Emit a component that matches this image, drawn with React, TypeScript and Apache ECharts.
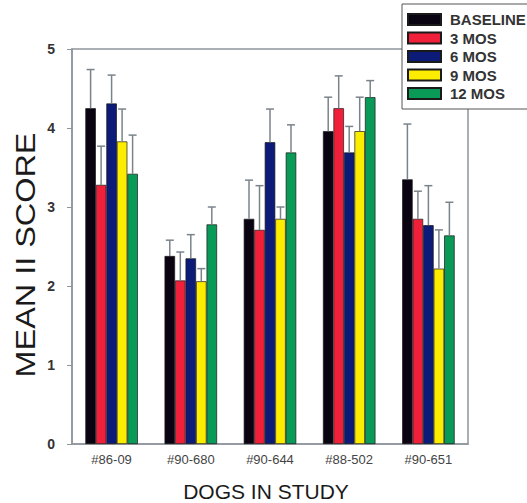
import React, { useEffect, useRef } from "react";
import * as echarts from "echarts";

const categories = ["#86-09", "#90-680", "#90-644", "#88-502", "#90-651"];
const seriesNames = ["BASELINE", "3 MOS", "6 MOS", "9 MOS", "12 MOS"];
const seriesColors = ["#0a0412", "#f0203a", "#0c1a78", "#fcec00", "#0a9a58"];

const baseline = [4.25, 2.38, 2.85, 3.96, 3.35];
const mos3 = [3.28, 2.07, 2.71, 4.25, 2.85];
const mos6 = [4.31, 2.35, 3.82, 3.69, 2.77];
const mos9 = [3.83, 2.06, 2.85, 3.96, 2.22];
const mos12 = [3.42, 2.78, 3.69, 4.39, 2.64];

// upper ends of the error bars
const baselineErr = [4.74, 2.58, 3.34, 4.39, 4.05];
const mos3Err = [3.77, 2.43, 3.27, 4.66, 3.2];
const mos6Err = [4.67, 2.65, 4.24, 4.02, 3.27];
const mos9Err = [4.24, 2.22, 3.0, 4.39, 2.71];
const mos12Err = [3.91, 3.0, 4.04, 4.6, 3.06];

const yTicks = [0, 1, 2, 3, 4, 5];

const FONT = "'Liberation Sans', Arial, Helvetica, sans-serif";
const BAR_W = 10.5;

export default function App() {
  const ref = useRef<HTMLDivElement>(null);

  useEffect(() => {
    if (!ref.current) return;
    const chart = echarts.init(ref.current, null, { renderer: "svg" });
    const values = [baseline, mos3, mos6, mos9, mos12];
    const errs = [baselineErr, mos3Err, mos6Err, mos9Err, mos12Err];

    const errData: number[][] = [];
    values.forEach((arr, si) => {
      arr.forEach((v, ci) => {
        errData.push([ci, si, v, errs[si][ci]]);
      });
    });

    const axisGray = "#8e959b";

    const option: any = {
      animation: false,
      textStyle: { fontFamily: FONT },
      grid: {
        left: 72,
        top: 49,
        right: 59,
        bottom: 59,
        show: true,
        borderColor: axisGray,
        borderWidth: 1.5,
        backgroundColor: "transparent",
      },
      legend: {
        data: seriesNames,
        orient: "vertical",
        left: 402,
        top: 4,
        backgroundColor: "#ffffff",
        borderColor: "#555",
        borderWidth: 1,
        padding: [8, 40, 8, 5],
        itemWidth: 33,
        itemHeight: 11,
        itemGap: 3.5,
        icon: "rect",
        selectedMode: false,
        textStyle: {
          fontFamily: FONT,
          fontSize: 15,
          fontWeight: "bold",
          color: "#333",
          lineHeight: 14,
          padding: [0, 0, 0, 4],
        },
      },
      xAxis: {
        type: "category",
        data: categories,
        axisLine: { lineStyle: { color: axisGray, width: 1.5 } },
        axisTick: { alignWithLabel: true, length: 4, lineStyle: { color: axisGray } },
        axisLabel: { color: "#444", fontSize: 13, margin: 9, fontFamily: FONT },
        splitLine: { show: false },
      },
      yAxis: {
        type: "value",
        min: yTicks[0],
        max: yTicks[yTicks.length - 1],
        interval: 1,
        axisLine: { show: true, lineStyle: { color: axisGray, width: 1.5 } },
        axisTick: { show: true, length: 5, lineStyle: { color: axisGray } },
        axisLabel: { color: "#333", fontSize: 14, fontWeight: "bold", margin: 17, fontFamily: FONT },
        splitLine: { show: false },
      },
      series: [
        ...seriesNames.map((name, i) => ({
          name,
          type: "bar",
          data: values[i],
          barWidth: BAR_W,
          barGap: "0%",
          itemStyle: {
            color: seriesColors[i],
            borderColor: "#1a1a1a",
            borderWidth: 0.7,
          },
          z: 2,
        })),
        {
          type: "custom",
          name: "err",
          data: errData,
          encode: { x: 0, y: [2, 3] },
          z: 3,
          renderItem: (params: any, api: any) => {
            const ci = api.value(0);
            const si = api.value(1);
            const v = api.value(2);
            const top = api.value(3);
            const b = api.coord([ci, v]);
            const t = api.coord([ci, top]);
            const x = b[0] + (si - 2) * BAR_W;
            const style = { stroke: "#7b838a", lineWidth: 1.5 };
            return {
              type: "group",
              children: [
                { type: "line", shape: { x1: x, y1: b[1], x2: x, y2: t[1] }, style },
                { type: "line", shape: { x1: x - 4, y1: t[1], x2: x + 4, y2: t[1] }, style },
              ],
            };
          },
        },
      ],
      graphic: [
        {
          type: "text",
          x: 25,
          y: 255,
          rotation: Math.PI / 2,
          scaleX: 1.2,
          style: {
            text: "MEAN II SCORE",
            font: `27px ${FONT}`,
            fill: "#1a1a1a",
            align: "center",
            verticalAlign: "middle",
          },
        },
        {
          type: "text",
          x: 266,
          y: 491,
          style: {
            text: "DOGS IN STUDY",
            font: `21px ${FONT}`,
            fill: "#1a1a1a",
            align: "center",
            verticalAlign: "middle",
          },
        },
      ],
    };

    chart.setOption(option);
    return () => chart.dispose();
  }, []);

  return (
    <div
      ref={ref}
      style={{ position: "fixed", left: 0, top: 0, width: 527, height: 503, background: "#fff" }}
    />
  );
}
